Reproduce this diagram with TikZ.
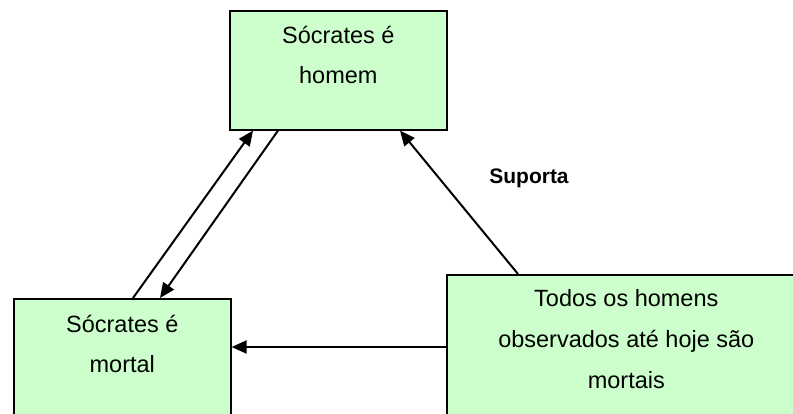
\documentclass[tikz,border=0pt]{standalone}
\usepackage{fontspec}
\setmainfont{Liberation Sans}
\usetikzlibrary{arrows.meta,calc}
\definecolor{boxgreen}{HTML}{CCFFCC}
\tikzset{
  box/.style={draw=black, line width=1.6pt, fill=boxgreen, rectangle, inner sep=0pt, anchor=north west},
  txt/.style={align=center, inner sep=0pt, anchor=north},
  conn/.style={line width=2pt, -{Triangle[length=15pt,width=13pt]}},
  lab/.style={font=\fontsize{21}{25}\selectfont\bfseries, inner sep=0pt, anchor=base}
}
\newcommand{\firststrut}{\rule{0pt}{25pt}}
\begin{document}
\begin{tikzpicture}[x=1pt,y=-1pt]
\useasboundingbox (0,0) rectangle (793,413);
\clip (0,0) rectangle (793,413);
% boxes
\node[box, minimum width=217pt, minimum height=119pt] (top) at (229,10) {};
\node[box, minimum width=217pt, minimum height=150pt] (left) at (13,298) {};
\node[box, minimum width=360pt, minimum height=170pt] (right) at (446,274) {};
% texts
\node[txt, font=\fontsize{23.5}{40}\selectfont] (toptext) at ([yshift=-8pt]top.north) {\firststrut Sócrates é\\homem};
\node[txt, font=\fontsize{23.5}{40}\selectfont] (lefttext) at ([yshift=-9pt]left.north) {\firststrut Sócrates é\\mortal};
\node[txt, font=\fontsize{23.5}{41}\selectfont] (righttext) at ([yshift=-7pt,xshift=-0.5pt]right.north) {\firststrut Todos os homens\\observados até hoje são\\mortais};
% connectors
\draw[conn] ([xshift=120pt]left.north west) -- ([xshift=24pt]top.south west);
\draw[conn] ([xshift=49pt]top.south west) -- ([xshift=147pt]left.north west);
\draw[conn] ([yshift=-73pt]right.north west) -- ([yshift=-49pt]left.north east);
\draw[conn] ([xshift=72pt]right.north west) -- ([xshift=171pt]top.south west);
% label
\node[lab] (suporta) at (529,183) {Suporta};
\end{tikzpicture}
\end{document}
